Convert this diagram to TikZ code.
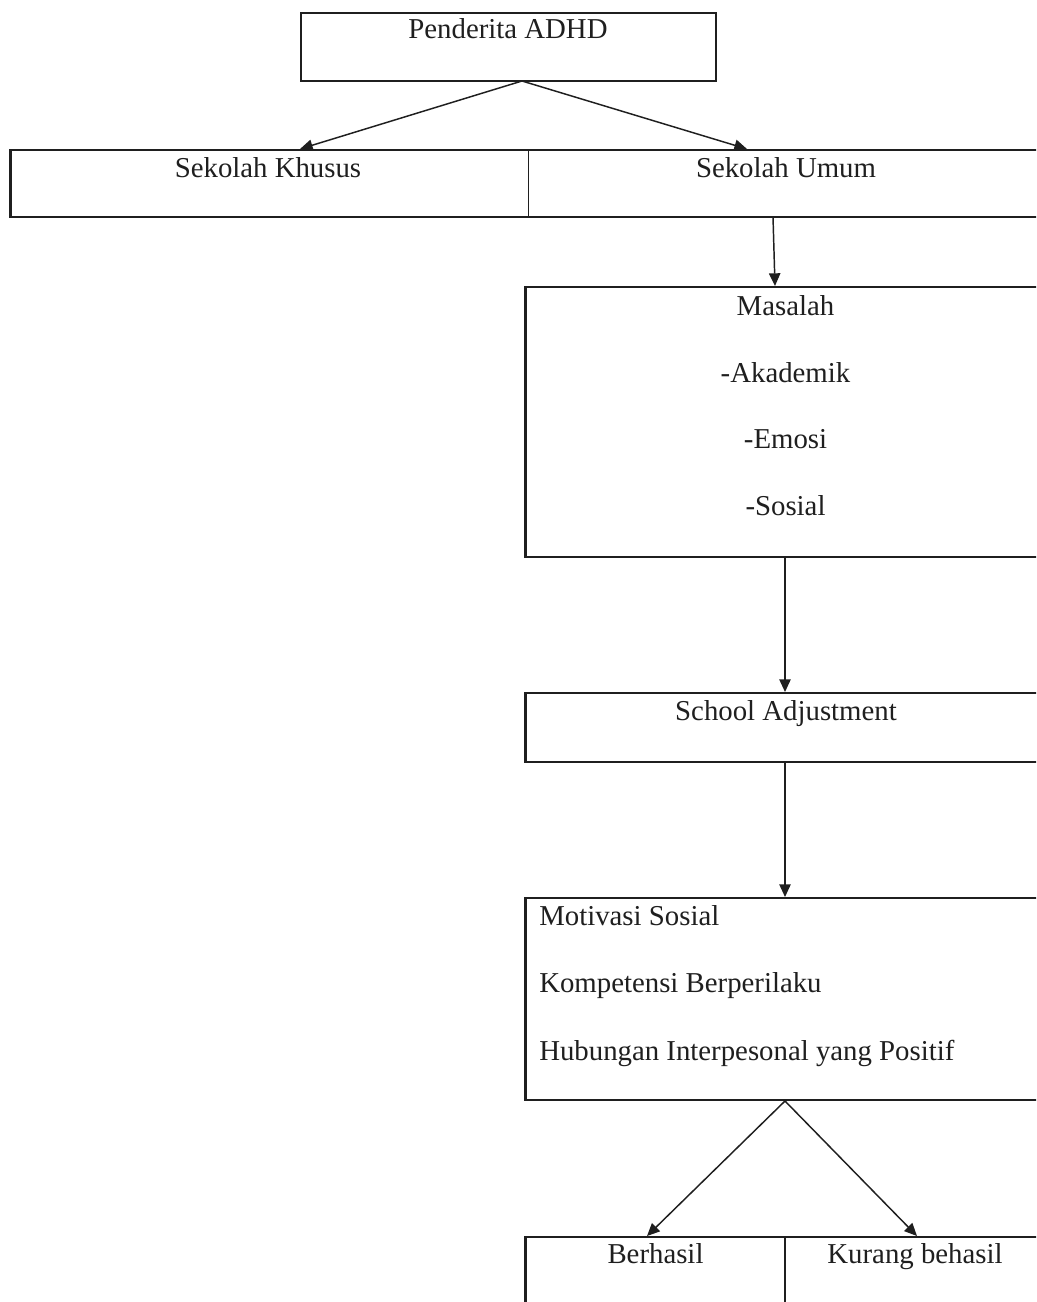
\documentclass[tikz,border=0pt]{standalone}
\usepackage{fontspec}
\setmainfont{Liberation Serif}
\usetikzlibrary{arrows.meta,calc,fit}
\begin{document}
\begin{tikzpicture}[x=0.75pt,y=-0.75pt,
  box/.style={rectangle,draw=none,inner sep=0pt,outer sep=0pt},
  frame/.style={draw=black!88,line width=2pt},
  divider/.style={draw=black!88,line width=1.3pt},
  txt/.style={inner sep=0pt,anchor=base,text=black!88,font=\fontsize{21.6}{26}\selectfont},
  ltxt/.style={txt,anchor=base west},
  arr/.style={draw=black!88,line width=1.1pt,-{Triangle[length=9.5pt,width=8.5pt]}}]
\useasboundingbox (0,0) rectangle (1036,1302);
\clip (0,0) rectangle (1036,1302);
\fill[white] (0,0) rectangle (1036,1302);
% boxes
\node[box,fit={(301,13) (716,81)}] (top) {};
\node[box,fit={(10.5,150) (528.5,217)}] (khusus) {};
\node[box,fit={(528.5,150) (1060,217)}] (umum) {};
\node[box,fit={(525.6,287) (1060,557)}] (masalah) {};
\node[box,fit={(525.6,693) (1060,762)}] (school) {};
\node[box,fit={(525.6,898) (1060,1100)}] (motiv) {};
\node[box,fit={(525.6,1237) (785,1330)}] (berhasil) {};
\node[box,fit={(785,1237) (1060,1330)}] (kurang) {};
% outlines
\draw[frame] (top.north west) rectangle (top.south east);
\draw[frame] (khusus.north west) rectangle (umum.south east);
\draw[divider] (khusus.north east) -- (khusus.south east);
\draw[frame] (masalah.north west) rectangle (masalah.south east);
\draw[frame] (school.north west) rectangle (school.south east);
\draw[frame] (motiv.north west) rectangle (motiv.south east);
\draw[frame] (berhasil.north west) rectangle (kurang.south east);
\draw[divider] (berhasil.north east) -- (berhasil.south east);
% texts
\node[txt] (tpend) at (508,39) {Penderita ADHD};
\node[txt] (tkhusus) at (268,177) {Sekolah Khusus};
\node[txt] (tumum) at (786,177) {Sekolah Umum};
\node[txt] (tmas) at (785.5,315) {Masalah};
\node[txt] (tak) at (785.5,382) {-Akademik};
\node[txt] (tem) at (785.5,448) {-Emosi};
\node[txt] (tsos) at (785.5,515) {-Sosial};
\node[txt] (tsch) at (786,720) {School Adjustment};
\node[ltxt] (tmot) at (539,925) {Motivasi Sosial};
\node[ltxt] (tkomp) at (539,992.5) {Kompetensi Berperilaku};
\node[ltxt] (thub) at (539,1060) {Hubungan Interpesonal yang Positif};
\node[txt] (tber) at (655.5,1263) {Berhasil};
\node[txt] (tkur) at (915,1263) {Kurang behasil};
% connectors
\draw[arr] ($(top.south)+(13.5,0)$) -- ($(khusus.north)+(30.5,-1)$);
\draw[arr] ($(top.south)+(13.5,0)$) -- ($(umum.north)+(-47.25,-1)$);
\draw[arr] ($(umum.south)+(-21.25,0)$) -- ($(masalah.north)+(-17.8,-1)$);
\draw[arr] ($(masalah.south)+(-7.8,0)$) -- ($(school.north)+(-7.8,-1)$);
\draw[arr] ($(school.south)+(-7.8,0)$) -- ($(motiv.north)+(-7.8,-1)$);
\draw[arr] ($(motiv.south)+(-7.8,1)$) -- ($(berhasil.north)+(-8.3,-1)$);
\draw[arr] ($(motiv.south)+(-7.8,1)$) -- ($(kurang.north)+(-5.5,-1)$);
\end{tikzpicture}
\end{document}
